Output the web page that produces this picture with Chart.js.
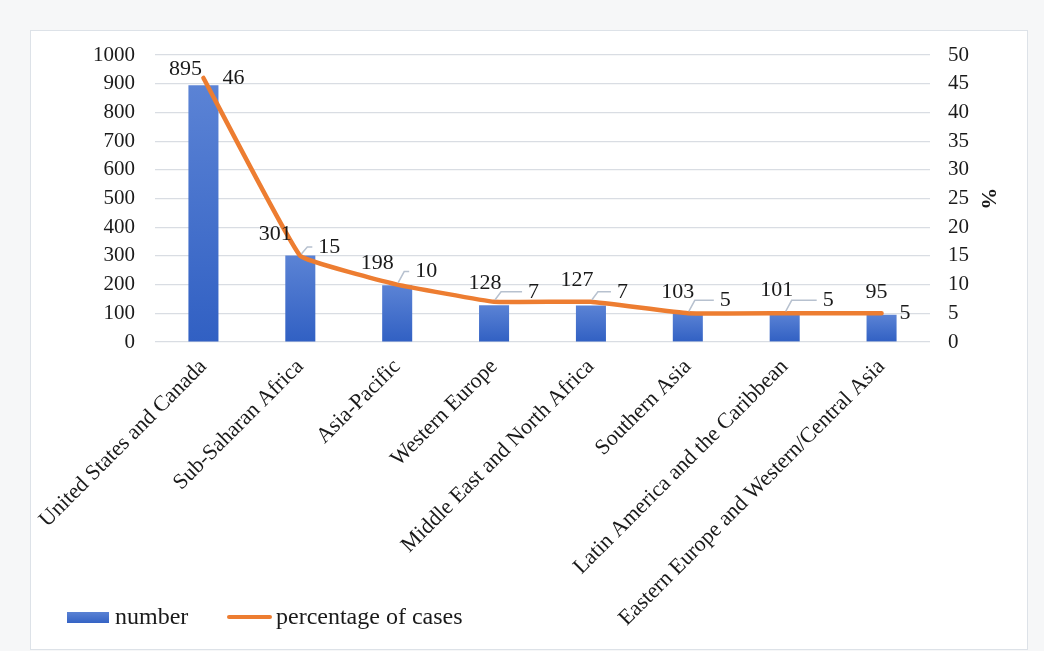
<!DOCTYPE html>
<html>
<head>
<meta charset="utf-8">
<script src="https://cdn.jsdelivr.net/npm/chart.js@4.4.1/dist/chart.umd.min.js"></script>
<style>
body{margin:0;background:#f6f7f8;width:1044px;height:651px;overflow:hidden;position:relative;font-family:"Liberation Serif",serif;}
#frame{position:absolute;left:30px;top:30px;width:998px;height:620px;background:#fff;border:1px solid #dde2e8;box-sizing:border-box;}
#wrap{position:absolute;left:0;top:0;width:1044px;height:651px;}
.leg{position:absolute;top:604px;font-size:24px;line-height:24px;color:#1a1a1a;white-space:nowrap;}
.sw-bar{position:absolute;left:67px;top:612px;width:42px;height:11px;background:linear-gradient(#5a82d4,#3563c4);}
.sw-line{position:absolute;left:227px;top:615px;width:45px;height:4px;background:#ed7d31;border-radius:2px;}
</style>
</head>
<body>
<div id="frame"></div>
<div id="wrap"><canvas id="barChart" width="1044" height="651"></canvas></div>
<div class="sw-bar"></div><div class="leg" style="left:115px">number</div>
<div class="sw-line"></div><div class="leg" style="left:276px">percentage of cases</div>
<script>
var regions = ['United States and Canada', 'Sub-Saharan Africa', 'Asia-Pacific', 'Western Europe',
    'Middle East and North Africa', 'Southern Asia', 'Latin America and the Caribbean',
    'Eastern Europe and Western/Central Asia'];
var numbers = [895, 301, 198, 128, 127, 103, 101, 95];
var percents = [46, 15, 10, 7, 7, 5, 5, 5];
var numberAxisMax = 1000, numberStep = 100;
var percentAxisMax = 50, percentStep = 5;

// label nudges in px (bar labels: centre from bar top, line labels: text start from point)
var barLabelShift = [[-18, -16], [-25, -21], [-20, -22], [-9, -22], [-14, -25], [-10, -20], [-8, -23], [-5, -23]];
var lineLabelShift = [[19, 0], [18, -9], [18, -13], [34, -10], [26, -10], [32, -13], [38, -13], [18, 0]];

var serif = '"Liberation Serif", "Times New Roman", serif';

// each bar gets its own top-to-bottom shading
function barFill(c) {
    var chart = c.chart;
    var y = chart.scales.yNum;
    if (!y || c.dataIndex === undefined) return '#4472c4';
    var top = y.getPixelForValue(numbers[c.dataIndex]);
    var base = y.getPixelForValue(0);
    if (!isFinite(top) || !isFinite(base) || top === base) return '#4472c4';
    var g = chart.ctx.createLinearGradient(0, top, 0, base);
    g.addColorStop(0, '#5b83d5');
    g.addColorStop(1, '#3160c3');
    return g;
}

var valueLabels = {
    id: 'valueLabels',
    afterDatasetsDraw: function(chart) {
        var ctx = chart.ctx;
        ctx.save();
        ctx.font = '22px ' + serif;
        ctx.fillStyle = '#1a1a1a';
        ctx.textBaseline = 'middle';

        ctx.textAlign = 'center';
        chart.getDatasetMeta(1).data.forEach(function(bar, i) {
            ctx.fillText(numbers[i], bar.x + barLabelShift[i][0], bar.y + barLabelShift[i][1]);
        });

        ctx.textAlign = 'left';
        chart.getDatasetMeta(0).data.forEach(function(pt, i) {
            var dx = lineLabelShift[i][0], dy = lineLabelShift[i][1];
            if (dy !== 0) {
                ctx.strokeStyle = '#b7c1cf';
                ctx.lineWidth = 1.5;
                ctx.beginPath();
                ctx.moveTo(pt.x + 1, pt.y - 2);
                ctx.lineTo(pt.x + 7, pt.y + dy);
                ctx.lineTo(pt.x + dx - 6, pt.y + dy);
                ctx.stroke();
            }
            ctx.fillText(percents[i], pt.x + dx, pt.y + dy);
        });
        ctx.restore();
    }
};

var ctx = document.getElementById('barChart').getContext('2d');
var myChart = new Chart(ctx, {
    data: {
        labels: regions,
        datasets: [{
            type: 'line',
            label: 'percentage of cases',
            data: percents,
            yAxisID: 'yPct',
            borderColor: '#ed7d31',
            backgroundColor: '#ed7d31',
            borderWidth: 4.5,
            borderCapStyle: 'round',
            pointRadius: 0,
            tension: 0.08,
            fill: false,
            order: 0
        }, {
            type: 'bar',
            label: 'number',
            data: numbers,
            yAxisID: 'yNum',
            backgroundColor: barFill,
            barPercentage: 0.31,
            categoryPercentage: 1,
            order: 1
        }]
    },
    options: {
        responsive: false,
        animation: false,
        layout: { padding: { left: 0, top: 55, right: 39, bottom: 0 } },
        plugins: { legend: { display: false }, tooltip: { enabled: false } },
        scales: {
            x: {
                grid: { display: false },
                border: { display: false },
                ticks: {
                    autoSkip: false, maxRotation: 45, minRotation: 45, padding: 4,
                    color: '#1a1a1a', font: { family: serif, size: 22 }
                },
                afterFit: function(scale) { scale.height = 309; }
            },
            yNum: {
                position: 'left',
                min: 0, max: numberAxisMax,
                grid: { color: '#d9dde3', lineWidth: 1.2, drawTicks: false },
                border: { display: false },
                ticks: {
                    stepSize: numberStep, padding: 20, color: '#1a1a1a', font: { family: serif, size: 21 },
                    callback: function(value) { return value; }
                },
                afterFit: function(scale) { scale.width = 155; }
            },
            yPct: {
                position: 'right',
                min: 0, max: percentAxisMax,
                grid: { display: false, drawTicks: false },
                border: { display: false },
                ticks: {
                    stepSize: percentStep, padding: 18, color: '#1a1a1a', font: { family: serif, size: 21 },
                    callback: function(value) { return value; }
                },
                title: { display: true, text: '%', color: '#1a1a1a', padding: { top: 4 }, font: { family: serif, size: 22, weight: 'bold' } },
                afterFit: function(scale) { scale.width = 75; }
            }
        }
    },
    plugins: [valueLabels]
});
</script>
</body>
</html>
